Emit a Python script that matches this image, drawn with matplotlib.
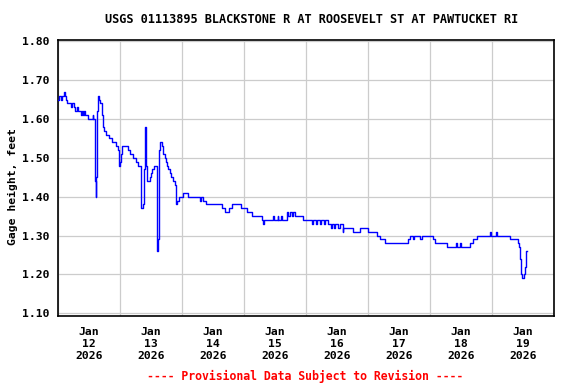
import numpy as np
import matplotlib
matplotlib.use('Agg')
from matplotlib import pyplot as plt
import matplotlib.dates as mdates

# hours since 2026-01-12 00:00 and gage height (ft)
hours = [0.0, 0.5, 1.0, 1.4, 2.3, 2.7, 3.1, 3.5, 5.2, 5.6, 6.0, 6.6, 7.2, 7.6,
         9.0, 9.3, 9.7, 10.1, 10.5, 11.6, 13.4, 13.7, 14.4, 14.6, 14.9, 15.1,
         15.4, 15.6, 16.0, 16.4, 16.9, 17.3, 17.8, 18.4, 19.8, 20.9, 22.6, 23.2,
         23.5, 24.0, 24.4, 24.9, 27.0, 27.9, 29.0, 30.2, 31.1, 32.1, 32.9, 33.3,
         33.7, 33.9, 34.2, 34.6, 35.6, 35.9, 36.4, 37.3, 38.3, 38.8, 39.2, 39.6,
         40.3, 40.8, 41.3, 41.7, 42.1, 42.6, 43.2, 43.9, 44.6, 45.2, 45.5, 45.8,
         46.2, 46.9, 48.2, 50.2, 55.0, 55.3, 56.2, 57.2, 63.4, 64.6, 66.2, 67.4,
         70.8, 73.2, 75.1, 79.0, 79.4, 79.8, 83.2, 83.6, 85.0, 85.3, 86.5, 86.8,
         88.6, 89.2, 89.8, 90.5, 90.9, 91.7, 94.8, 98.5, 98.8, 100.0, 100.4,
         101.5, 101.9, 103.0, 103.4, 104.5, 105.5, 105.9, 107.0, 107.4, 108.5,
         109.0, 110.2, 110.5, 114.2, 116.9, 120.0, 123.5, 124.6, 126.6, 135.5,
         136.2, 137.6, 138.0, 140.0, 140.8, 145.2, 145.9, 150.6, 154.2, 154.6,
         155.5, 155.9, 159.5, 160.5, 162.2, 167.2, 167.6, 169.5, 169.9, 175.0,
         178.1, 178.5, 178.8, 179.1, 179.4, 179.7, 180.4, 180.8, 181.2, 181.5]
gage = [1.65, 1.66, 1.65, 1.66, 1.67, 1.66, 1.65, 1.64, 1.63, 1.64, 1.63, 1.62, 1.63, 1.62,
        1.61, 1.62, 1.61, 1.62, 1.61, 1.60, 1.61, 1.60, 1.44, 1.40, 1.45, 1.62,
        1.65, 1.66, 1.65, 1.64, 1.61, 1.58, 1.57, 1.56, 1.55, 1.54, 1.53, 1.52,
        1.48, 1.49, 1.51, 1.53, 1.52, 1.51, 1.50, 1.49, 1.48, 1.37, 1.38, 1.47,
        1.58, 1.56, 1.48, 1.44, 1.45, 1.46, 1.47, 1.48, 1.26, 1.29, 1.52, 1.54,
        1.53, 1.51, 1.50, 1.49, 1.48, 1.47, 1.46, 1.45, 1.44, 1.43, 1.41, 1.38,
        1.39, 1.40, 1.41, 1.40, 1.39, 1.40, 1.39, 1.38, 1.37, 1.36, 1.37, 1.38,
        1.37, 1.36, 1.35, 1.34, 1.33, 1.34, 1.35, 1.34, 1.35, 1.34, 1.35, 1.34,
        1.36, 1.35, 1.36, 1.35, 1.36, 1.35, 1.34, 1.33, 1.34, 1.33, 1.34,
        1.33, 1.34, 1.33, 1.34, 1.33, 1.32, 1.33, 1.32, 1.33, 1.32,
        1.33, 1.31, 1.32, 1.31, 1.32, 1.31, 1.30, 1.29, 1.28, 1.29,
        1.30, 1.29, 1.30, 1.29, 1.30, 1.29, 1.28, 1.27, 1.28, 1.27,
        1.28, 1.27, 1.28, 1.29, 1.30, 1.31, 1.30, 1.31, 1.30, 1.29,
        1.28, 1.27, 1.24, 1.22, 1.20, 1.19, 1.20, 1.22, 1.26, 1.26]

title = 'USGS 01113895 BLACKSTONE R AT ROOSEVELT ST AT PAWTUCKET RI'
footer = '---- Provisional Data Subject to Revision ----'
ylab = 'Gage height, feet'
yticks = [1.10, 1.20, 1.30, 1.40, 1.50, 1.60, 1.70, 1.80]

start = np.datetime64('2026-01-12T00:00')
times = start + (np.array(hours) * 60).astype('timedelta64[m]')

plt.rcParams['font.family'] = 'DejaVu Sans Mono'
plt.rcParams['font.weight'] = 'bold'

fig = plt.figure(figsize=(5.76, 3.84), dpi=100)
ax = fig.add_axes([0.1007, 0.1771, 0.8611, 0.7195])

ax.plot(times, gage, color='#0000ff', lw=1.0, drawstyle='steps-post', zorder=3)

ax.set_xlim(np.datetime64('2026-01-12T00:00'), np.datetime64('2026-01-20T00:00'))
ax.set_ylim(1.093, 1.804)
ax.set_yticks(yticks)
ax.set_yticklabels(['%.2f' % v for v in yticks])

ax.xaxis.set_major_locator(mdates.HourLocator(byhour=12))
ax.xaxis.set_major_formatter(mdates.DateFormatter('%b\n%d\n%Y'))
ax.xaxis.set_minor_locator(mdates.DayLocator())

ax.grid(False)
ax.grid(True, axis='x', which='minor', color='#cccccc', lw=0.9)
ax.grid(True, axis='y', which='major', color='#cccccc', lw=0.9)
ax.set_axisbelow(True)

ax.tick_params(axis='both', which='both', length=0, labelsize=8.2)
ax.tick_params(axis='y', pad=6)
ax.tick_params(axis='x', pad=8)
for lab in ax.get_xticklabels():
    lab.set_linespacing(1.25)

for s in ax.spines.values():
    s.set_linewidth(1.2)
    s.set_color('black')

fig.text(0.022, 0.513, ylab, rotation=90, ha='center', va='center', fontsize=8.2)
fig.text(0.5417, 0.9505, title, ha='center', va='center', fontsize=8.6)
fig.text(0.5304, 0.0208, footer, ha='center', va='center', fontsize=8.3, color='#ff0000')

fig.savefig('out.png', dpi=100)
